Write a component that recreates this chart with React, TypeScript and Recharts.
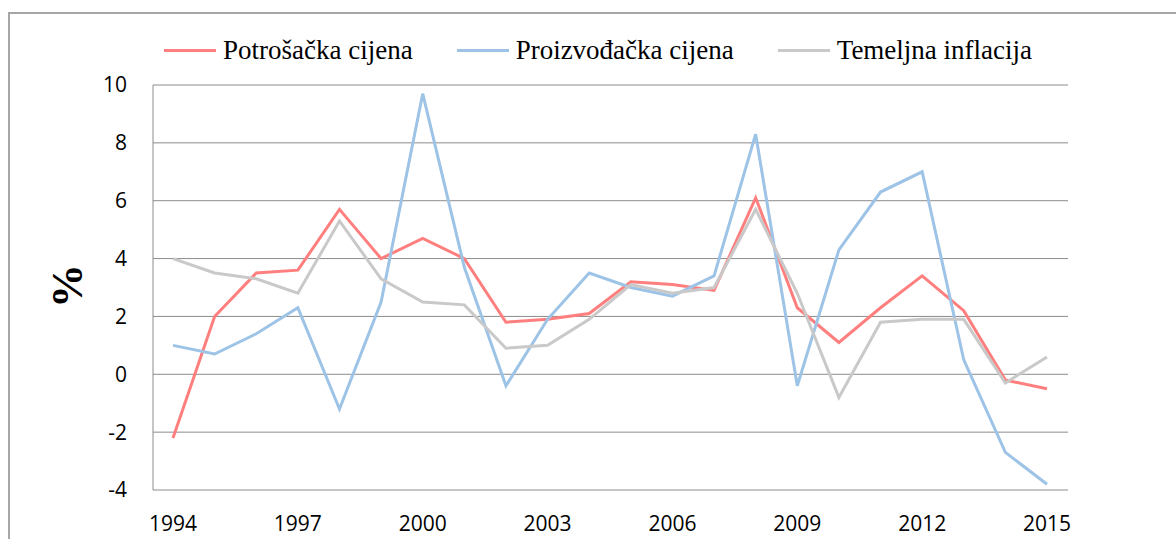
import React from 'react';
import { LineChart, Line, XAxis, YAxis, CartesianGrid, Legend, Label } from 'recharts';

const years = ['1994','1995','1996','1997','1998','1999','2000','2001','2002','2003','2004','2005','2006','2007','2008','2009','2010','2011','2012','2013','2014','2015'];
const potrosacka = [-2.2, 2.0, 3.5, 3.6, 5.7, 4.0, 4.7, 4.0, 1.8, 1.9, 2.1, 3.2, 3.1, 2.9, 6.1, 2.3, 1.1, 2.3, 3.4, 2.2, -0.2, -0.5];
const proizvodacka = [1.0, 0.7, 1.4, 2.3, -1.2, 2.5, 9.7, 3.7, -0.4, 1.9, 3.5, 3.0, 2.7, 3.4, 8.3, -0.4, 4.3, 6.3, 7.0, 0.5, -2.7, -3.8];
const temeljna = [4.0, 3.5, 3.3, 2.8, 5.3, 3.3, 2.5, 2.4, 0.9, 1.0, 1.9, 3.1, 2.8, 3.0, 5.7, 2.8, -0.8, 1.8, 1.9, 1.9, -0.3, 0.6];
const yTicks = [-4, -2, 0, 2, 4, 6, 8, 10];

const data = years.map((y, i) => ({
  year: y,
  p: potrosacka[i],
  q: proizvodacka[i],
  t: temeljna[i],
}));

const renderLegend = (props: any) => {
  const payload = props.payload || [];
  return (
    <div style={{ display: 'flex', justifyContent: 'center', alignItems: 'center', height: 40, paddingLeft: 20 }}>
      {payload.map((e: any, i: number) => (
        <div key={i} style={{ display: 'flex', alignItems: 'center', marginLeft: i === 0 ? 0 : 44 }}>
          <div style={{ width: 52, height: 3, background: e.color, marginRight: 7 }} />
          <span style={{ fontFamily: '"Liberation Serif", serif', fontSize: 27, color: '#000', whiteSpace: 'nowrap' }}>{e.value}</span>
        </div>
      ))}
    </div>
  );
};

export default function App() {
  return (
    <div style={{ position: 'absolute', left: 0, top: 0, width: 1176, height: 539, background: '#fff' }}>
      <div style={{ position: 'absolute', left: 8, top: 12, width: 1180, height: 540, borderLeft: '2px solid #a6a6a6', borderTop: '2px solid #a6a6a6' }} />
      <div style={{ position: 'absolute', left: 0, top: 0 }}>
        <LineChart width={1176} height={539} data={data} margin={{ top: 45, right: 108, bottom: 0, left: 0 }}>
          <CartesianGrid vertical={false} stroke="#8c8c8c" strokeWidth={1} />
          <XAxis
            dataKey="year"
            interval={2}
            padding={{ left: 20, right: 21 }}
            axisLine={false}
            tickLine={false}
            tickSize={0}
            tickMargin={26}
            height={49}
            tick={{ fontFamily: '"Open Sans", sans-serif', fontSize: 21, fill: '#000' }}
          />
          <YAxis
            type="number"
            domain={[-4, 10]}
            ticks={yTicks}
            width={153}
            axisLine={{ stroke: '#8c8c8c', strokeWidth: 1 }}
            tickLine={false}
            tickSize={0}
            tickMargin={26}
            tick={{ fontFamily: '"Open Sans", sans-serif', fontSize: 21, fill: '#000' }}
          >
            <Label
              content={() => (
                <text x={67} y={286} transform="rotate(-90 67 286)" textAnchor="middle" dominantBaseline="central" fontFamily='"Liberation Serif", serif' fontWeight="bold" fontSize={44} fill="#000">%</text>
              )}
            />
          </YAxis>
          <Legend verticalAlign="top" align="center" content={renderLegend} wrapperStyle={{ top: 30, left: 0, width: 1176 }} />
          <Line type="linear" dataKey="p" name="Potrošačka cijena" stroke="#FF7F7F" strokeWidth={3} dot={false} isAnimationActive={false} />
          <Line type="linear" dataKey="q" name="Proizvođačka cijena" stroke="#9DC3E6" strokeWidth={3} dot={false} isAnimationActive={false} />
          <Line type="linear" dataKey="t" name="Temeljna inflacija" stroke="#C9C9C9" strokeWidth={3} dot={false} isAnimationActive={false} />
        </LineChart>
      </div>
    </div>
  );
}
